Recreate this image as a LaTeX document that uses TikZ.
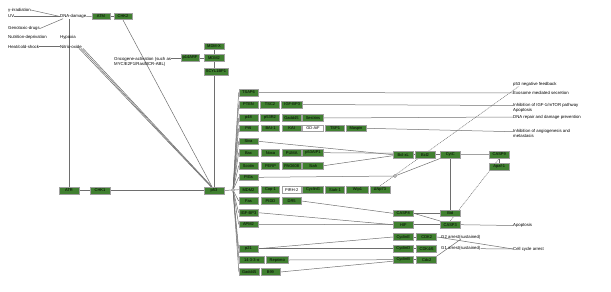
\documentclass[tikz,border=0pt]{standalone}
\usepackage{fontspec}
\setmainfont{Liberation Sans}
\usetikzlibrary{backgrounds}
\definecolor{kg}{RGB}{64,128,48}
\definecolor{kb}{RGB}{160,160,160}
\definecolor{kl}{RGB}{110,110,110}
\begin{document}
\begin{tikzpicture}[x=1pt,y=-1pt,
  gb/.style={draw=kb, line width=0.7pt, fill=kg, minimum height=6.8pt, minimum width=19pt, inner sep=0pt, font=\fontsize{4}{4.2}\selectfont},
  wb/.style={gb, fill=white},
  lbl/.style={anchor=west, inner sep=0pt, font=\fontsize{4.3}{5}\selectfont, align=left},
  ln/.style={draw=kl, line width=0.5pt},
  dln/.style={ln, dash pattern=on 1pt off 0.8pt}]
\useasboundingbox (0,0) rectangle (611,292);
% left labels
\node[lbl] (gam) at (8,10) {γ-irradiation};
\node[lbl] (uv) at (8,16.5) {UV};
\node[lbl] (geno) at (8,28.5) {Genotoxic-drugs};
\node[lbl] (nutr) at (8,37.7) {Nutrition-deprivation};
\node[lbl] (heat) at (8,46.5) {Heat/cold-shock};
\node[lbl] (dna) at (60,16.5) {DNA-damage};
\node[lbl] (hyp) at (60,37.7) {Hypoxia};
\node[lbl] (nit) at (60,46.5) {Nitric-oxide};
\node[lbl] (onco) at (114,62) {Oncogene-activation (such as\\MYC/E2F1/Ras/BCR-ABL)};
% left boxes
\node[gb, minimum width=18pt] (atm) at (101,16.3) {ATM};
\node[gb, minimum width=18pt] (chk2) at (123,16.3) {CHK2};
\node[gb, minimum width=20pt] (atr) at (69,190.5) {ATR};
\node[gb, minimum width=20pt] (chk1) at (100,190.5) {CHK1};
\node[gb, minimum width=20pt] (p53) at (214,190.5) {p53};
\node[gb, minimum width=18pt] (p14) at (190,58) {p14ARF};
\node[gb, minimum width=20pt] (mdmx) at (214,46.3) {MDM-X};
\node[gb, minimum width=20pt] (mdm2t) at (214,58) {MDM2};
\node[gb, minimum width=24pt] (scyl) at (216,71.5) {SCYL1BP1};
% column of targets
\node[gb] (tsap6) at (248.5,92.5) {TSAP6};
\node[gb] (pten) at (248.5,104.5) {PTEN};
\node[gb, minimum width=18.6pt] (tsc2) at (270,104.5) {TSC2};
\node[gb, minimum width=21pt] (igfbpt) at (292.2,104.5) {IGF-BP3};
\node[gb] (p48) at (248.5,118) {p48};
\node[gb, minimum width=18.6pt] (p53r2) at (270,118) {p53R2};
\node[gb] (gaddt) at (291.5,118) {Gadd45};
\node[gb, minimum width=20.6pt] (sest) at (313,118) {Sestrins};
\node[gb] (pai) at (248.5,128.3) {PAI};
\node[gb, minimum width=18.6pt] (bai1) at (270.5,128.3) {BAI-1};
\node[gb] (kai) at (291.7,128.3) {KAI};
\node[wb, minimum width=20.6pt] (gdaif) at (313,128.3) {GD-AiF};
\node[gb, minimum width=18.6pt] (tsp1) at (335,128.3) {TSP1};
\node[gb, minimum width=20pt] (maspin) at (356,128.3) {Maspin};
\node[gb] (siva) at (248.5,141.3) {Siva};
\node[gb] (bax) at (248.5,152.7) {Bax};
\node[gb, minimum width=18.6pt] (noxa) at (270.5,152.7) {Noxa};
\node[gb] (puma) at (291.7,152.7) {PUMA};
\node[gb, minimum width=20.6pt] (aip) at (313,152.7) {p53AIP1};
\node[gb] (scotin) at (248.5,165.7) {Scotin};
\node[gb, minimum width=18.6pt] (perp) at (270.5,165.7) {PERP};
\node[gb] (pag) at (291.7,165.7) {PAG608};
\node[gb, minimum width=20.6pt] (siah) at (313,165.7) {Siah};
\node[gb] (pigs) at (248.5,177.3) {PIGs};
\node[gb] (mdm2) at (248.5,189.7) {MDM2};
\node[gb, minimum width=18.6pt] (cop1) at (270.5,189.7) {Cop-1};
\node[wb] (pirh) at (291.7,189.7) {PIRH-2};
\node[gb, minimum width=20.6pt] (cycg) at (313,189.7) {CyclinG};
\node[gb, minimum width=18.6pt] (siah1) at (335,189.7) {Siah-1};
\node[gb, minimum width=21.6pt] (wip1) at (357.5,189.7) {Wip1};
\node[gb, minimum width=20pt] (np73) at (380,189.7) {ΔNp73};
\node[gb] (fas) at (248.5,201) {Fas};
\node[gb, minimum width=18.6pt] (pidd) at (270.5,201) {PIDD};
\node[gb] (dr5) at (291.7,201) {DR5};
\node[gb] (igfbpb) at (248.5,212.7) {IGF-BP3};
\node[gb] (apm2) at (248.5,224.3) {APM2};
\node[gb] (p21) at (248.5,248.7) {p21};
\node[gb, minimum width=25pt] (s1433) at (251.8,260) {14-3-3-σ};
\node[gb, minimum width=22pt] (repr) at (277.2,260) {Reprimo};
\node[gb, minimum width=20pt] (gaddb) at (249.2,272) {Gadd45};
\node[gb] (b99) at (270.4,272) {B99};
% right side
\node[gb, minimum width=20pt] (bclxl) at (403.3,154.7) {Bcl-xL};
\node[gb, minimum width=20pt] (bcl2) at (425,154.7) {Bcl2};
\node[gb, minimum width=19.5pt] (cytc) at (450.3,154.7) {CytC};
\node[gb, minimum width=20pt] (casp9) at (499.3,154.5) {CASP9};
\node[gb, minimum width=20pt] (apaf) at (499.3,166.7) {Apaf-1};
\node[gb, minimum width=20pt] (casp8) at (403.3,213.3) {CASP8};
\node[gb, minimum width=20pt] (bid) at (450.3,213.3) {Bid};
\node[gb, minimum width=20pt] (hif) at (403.3,224.7) {HIF};
\node[gb, minimum width=20pt] (casp3) at (450.3,224.7) {CASP3};
\node[gb, minimum width=20pt] (cyce) at (403.3,237) {CyclinE};
\node[gb, minimum width=20pt] (cdk2) at (426.7,237) {CDK2};
\node[gb, minimum width=20pt] (cycd) at (403.3,248.7) {CyclinD};
\node[gb, minimum width=20pt] (cdk46) at (426.7,248.7) {CDK4/6};
\node[gb, minimum width=20pt] (cycb) at (403.3,259.7) {CyclinB};
\node[gb, minimum width=20pt] (cdc2) at (426.7,259.7) {Cdc2};
% right labels
\node[lbl] (neg) at (513,84) {p53 negative feedback};
\node[lbl] (exo) at (513,93) {Exosome mediated secretion};
\node[lbl] (igf) at (513,105.5) {Inhibition of IGF-1/mTOR pathway};
\node[lbl] (apo1) at (513,110.5) {Apoptosis};
\node[lbl] (dnar) at (513,117) {DNA repair and damage prevention};
\node[lbl] (ang) at (513,133.5) {Inhibition of angiogenesis and\\metastasis};
\node[lbl] (apo2) at (513,225.5) {Apoptosis};
\node[lbl] (g2) at (441,237) {G2 arrest(sustained)};
\node[lbl] (g1) at (441,248.7) {G1 arrest(sustained)};
\node[lbl] (cca) at (513,249) {Cell cycle arrest};
\node[circle, draw=kl, fill=white, line width=0.5pt, inner sep=0pt, minimum size=3pt] (hub) at (233,190) {};
\node[circle, draw=kl, fill=white, line width=0.5pt, inner sep=0pt, minimum size=3pt] (ros) at (395,176) {};
\begin{pgfonlayer}{background}
\draw[ln] (gam.east) -- (dna.west);
\draw[ln] (uv.east) -- (dna.west);
\draw[ln] (geno.east) -- ([xshift=3pt]dna.south west);
\draw[ln] (dna.east) -- (atm.west);
\draw[ln] (atm) -- (chk2);
\draw[ln] (heat.east) -- (nit.west);
\draw[ln] (atr.north) -- (atr.north |- dna.south);
\draw[ln] (atr) -- (chk1);
\draw[ln] (chk1) -- (p53);
\draw[ln] (chk2.south) -- ([xshift=-2pt]p53.north);
\draw[ln] ([xshift=-3pt]nit.south east) -- ([xshift=-3pt]p53.north);
\draw[ln] ([xshift=-1pt]nit.south east) -- ([xshift=-2.5pt]p53.north);
\draw[ln] ([xshift=1pt]nit.south east) -- ([xshift=-2pt]p53.north);
\draw[ln] (p14.west) -- (p14.west -| onco.east);
\draw[ln] (p14) -- (mdm2t);
\draw[ln] (mdmx.north) -- (p53.north);
\draw[ln] (p53.east) -- (hub);
\foreach \t in {tsap6,pten,p48,pai,siva,bax,scotin,pigs,mdm2,fas,igfbpb,apm2,p21,s1433,gaddb}
  \draw[ln] (hub) -- (\t.west);
\draw[ln] (tsap6.east) -- (exo.west);
\draw[ln] (igfbpt.east) -- (igf.west);
\draw[ln] (sest.east) -- (dnar.west);
\draw[ln] (maspin.east) -- ([yshift=1.8pt]ang.west);
\draw[ln] (siva.east) -- (bclxl.west);
\draw[ln] (aip.east) -- ([yshift=1.5pt]bclxl.west);
\draw[ln] (siah.east) -- ([yshift=-1pt]bclxl.west);
\draw[ln] (pigs.east) -- (ros);
\draw[ln] (ros) -- (cytc.south west);
\draw[dln] (np73.north) -- ([xshift=6pt]neg.south west);
\draw[ln] (dr5.east) -- (casp8.west);
\draw[ln] (igfbpb.east) -- (hif.west);
\draw[ln] (apm2.east) -- (hif.west);
\draw[ln] (hif) -- (casp3);
\draw[ln] (casp3.east) -- (apo2.west);
\draw[ln] (casp8) -- (bid);
\draw[ln] (casp8.east) -- (casp3.north west);
\draw[ln] (cytc) -- (bid);
\draw[ln] (bclxl) -- (bcl2);
\draw[ln] (bcl2) -- (cytc);
\draw[ln] (cytc) -- (casp9);
\draw[ln] (casp9) -- (apaf);
\draw[dln] (casp3.north) -- (casp9.south);
\draw[ln] (p21.east) -- (cyce.west);
\draw[ln] (p21.east) -- (cycd.west);
\draw[ln] (repr.east) -- (cycb.west);
\draw[ln] (b99.east) -- ([yshift=-1.5pt]cycb.west);
\draw[ln] (cyce) -- (cdk2);
\draw[ln] (cycd) -- (cdk46);
\draw[ln] (cycb) -- (cdc2);
\draw[ln] (cdk2.east) -- (cca.west);
\draw[ln] (g1.east) -- (cca.west);
\draw[ln] (cdc2.north east) -- (g2.south);
\end{pgfonlayer}
\end{tikzpicture}
\end{document}
